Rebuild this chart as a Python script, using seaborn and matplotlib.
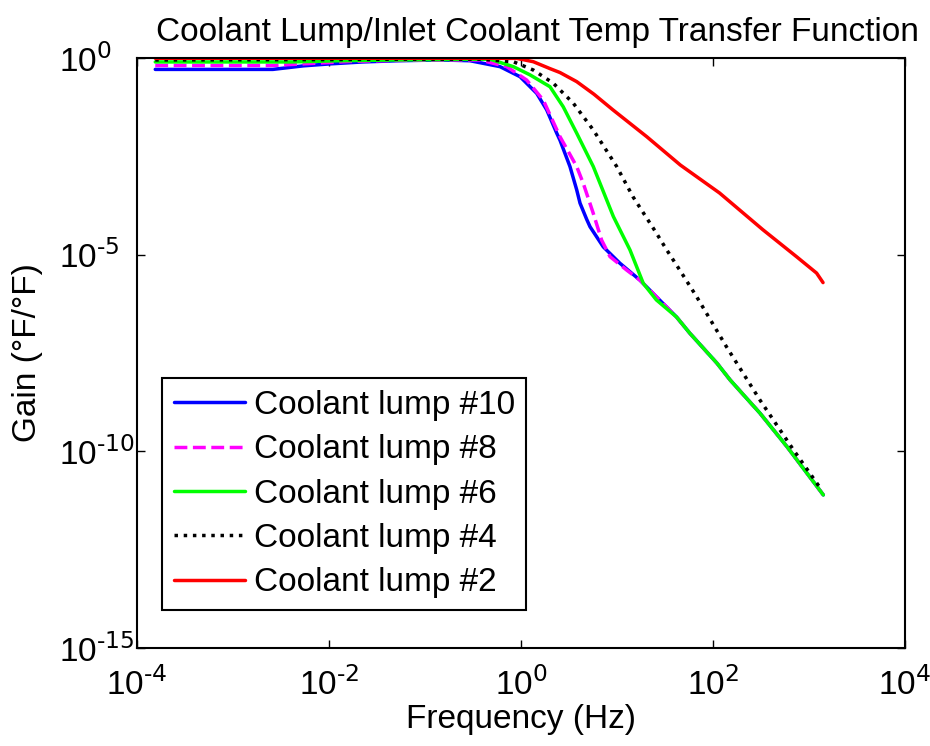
import matplotlib
matplotlib.use("Agg")
import matplotlib.pyplot as plt
import seaborn as sns
import pandas as pd
from matplotlib.ticker import FixedLocator, FixedFormatter, NullLocator

# ---- data ----
freq_10 = [1.55e-4, 2.6e-3, 5.4e-3, 1.02e-2, 2.24e-2, 5.1e-2, 0.145, 0.294, 0.604, 0.977, 1.459,
           1.854, 2.355, 2.547, 3.236, 3.802, 4.121, 4.83, 5.236, 7.194, 10.74, 17.38, 25.7,
           41.7, 57.5, 110, 151, 309, 589, 1410]
gain_10 = [0.513, 0.513, 0.631, 0.708, 0.794, 0.851, 0.891, 0.853, 0.603, 0.335, 0.126,
           0.0479, 0.0123, 8.13e-3, 1.74e-3, 4.47e-4, 2.04e-4, 7.94e-5, 5.13e-5, 1.58e-5, 6.03e-6, 2.24e-6, 8.51e-7,
           2.6e-7, 1.0e-7, 1.74e-8, 6.5e-9, 9.3e-10, 1.32e-10, 7.8e-12]

freq_8 = [1.55e-4, 2.6e-3, 6.3e-3, 1.58e-2, 5.1e-2, 0.145, 0.374, 0.710, 1.146, 1.706, 2.547,
          3.802, 4.457, 5.662, 6.918, 8.453, 12.59, 17.38, 25.7, 41.7, 57.5, 110, 151, 309, 589, 1410]
gain_8 = [0.646, 0.646, 0.724, 0.813, 0.871, 0.891, 0.891, 0.603, 0.275, 0.0851, 0.01,
          1.74e-3, 6.46e-4, 1.12e-4, 2.34e-5, 8.91e-6, 4.07e-6, 2.24e-6, 8.51e-7, 2.6e-7, 1.0e-7,
          1.74e-8, 6.5e-9, 9.3e-10, 1.32e-10, 7.8e-12]

freq_6 = [1.55e-4, 4.0e-3, 1.26e-2, 5.1e-2, 0.145, 0.475, 0.832, 1.242, 2.004, 2.754, 3.802,
          5.662, 7.816, 9.162, 13.65, 18.79, 25.7, 41.7, 57.5, 110, 151, 309, 589, 1410]
gain_6 = [0.794, 0.794, 0.851, 0.891, 0.912, 0.933, 0.603, 0.372, 0.186, 0.0575, 0.0123,
          1.74e-3, 2.45e-4, 9.33e-5, 1.32e-5, 1.86e-6, 7.08e-7, 2.6e-7, 1.0e-7, 1.74e-8, 6.5e-9,
          9.3e-10, 1.32e-10, 7.8e-12]

freq_4 = [1.55e-4, 1e-2, 5.1e-2, 0.374, 0.832, 1.343, 2.168, 3.508, 5.662, 9.93, 14.69, 25.7,
          32.96, 45.29, 67.6, 138, 309, 692, 1350]
gain_4 = [0.891, 0.912, 0.933, 0.933, 0.805, 0.495, 0.229, 0.0708, 0.0148, 1.74e-3, 2.95e-4,
          3.55e-5, 1.32e-5, 3.98e-6, 8.51e-7, 4.57e-8, 2.0e-9, 1.07e-10, 1.05e-11]

freq_2 = [1.55e-4, 0.1, 0.902, 1.343, 2.004, 2.547, 3.802, 5.754, 9.08, 20.4, 45.7, 117,
          331, 741, 1200, 1400]
gain_2 = [0.985, 0.985, 0.98, 0.805, 0.537, 0.427, 0.251, 0.120, 0.0479, 0.01, 1.9e-3, 3.7e-4,
          4.3e-5, 8.9e-6, 3.4e-6, 1.95e-6]

labels = ["Coolant lump #10", "Coolant lump #8", "Coolant lump #6", "Coolant lump #4", "Coolant lump #2"]
x_ticks = [1e-4, 1e-2, 1e0, 1e2, 1e4]
x_ticklabels = [r"10$^{\text{-4}}$", r"10$^{\text{-2}}$", r"10$^{\text{0}}$", r"10$^{\text{2}}$", r"10$^{\text{4}}$"]
y_ticks = [1e-15, 1e-10, 1e-5, 1e0]
y_ticklabels = [r"10$^{\text{-15}}$", r"10$^{\text{-10}}$", r"10$^{\text{-5}}$", r"10$^{\text{0}}$"]

series = [
    (freq_10, gain_10, labels[0], (0, 0, 1), "-"),
    (freq_8, gain_8, labels[1], (1, 0, 1), "--"),
    (freq_6, gain_6, labels[2], (0, 1, 0), "-"),
    (freq_4, gain_4, labels[3], (0, 0, 0), ":"),
    (freq_2, gain_2, labels[4], (1, 0, 0), "-"),
]

sns.set_theme(style="ticks")
plt.rcParams["font.family"] = ["Liberation Sans", "DejaVu Sans"]
plt.rcParams["mathtext.default"] = "regular"
plt.rcParams["axes.unicode_minus"] = False
plt.rcParams["text.color"] = "black"
plt.rcParams["axes.labelcolor"] = "black"
plt.rcParams["xtick.color"] = "black"
plt.rcParams["ytick.color"] = "black"
FS = 24

fig = plt.figure(figsize=(9.30, 7.46), dpi=100)
ax = fig.add_axes([137 / 930, 1 - 648 / 746, 768 / 930, 590 / 746])

for fx, gy, lab, col, ls in series:
    df = pd.DataFrame({"Frequency": fx, "Gain": gy})
    sns.lineplot(data=df, x="Frequency", y="Gain", ax=ax, color=col, linestyle=ls,
                 linewidth=2.5, label=lab, estimator=None)

ax.set_xscale("log")
ax.set_yscale("log")
ax.set_xlim(1e-4, 1e4)
ax.set_ylim(1e-15, 1e0)
ax.xaxis.set_major_locator(FixedLocator(x_ticks))
ax.xaxis.set_major_formatter(FixedFormatter(x_ticklabels))
ax.yaxis.set_major_locator(FixedLocator(y_ticks))
ax.yaxis.set_major_formatter(FixedFormatter(y_ticklabels))
ax.xaxis.set_minor_locator(NullLocator())
ax.yaxis.set_minor_locator(NullLocator())
ax.tick_params(which="major", direction="in", length=6, width=1.0, top=True, right=True,
               labelsize=FS, colors="black")
ax.tick_params(axis="x", pad=14)
ax.tick_params(axis="y", pad=56)
for lbl in ax.get_yticklabels():
    lbl.set_horizontalalignment("left")
for s in ax.spines.values():
    s.set_linewidth(1.5)
    s.set_color("black")

ax.set_xlabel("Frequency (Hz)", fontsize=FS, labelpad=2, color="black")
ax.set_ylabel("Gain (°F/°F)", fontsize=FS, labelpad=12, color="black")
ax.set_title("Coolant Lump/Inlet Coolant Temp Transfer Function", fontsize=FS, pad=12,
             x=0.521, color="black")

leg = ax.legend(loc="lower left", bbox_to_anchor=(0.0326, 0.0644), borderaxespad=0,
                fontsize=FS, frameon=True, fancybox=False, framealpha=1, edgecolor="black",
                handlelength=2.15, handletextpad=0.25, labelspacing=0.4, borderpad=0.35)
leg.get_frame().set_linewidth(1.5)
for t in leg.get_texts():
    t.set_color("black")

fig.savefig("out.png", dpi=100, facecolor="white")
